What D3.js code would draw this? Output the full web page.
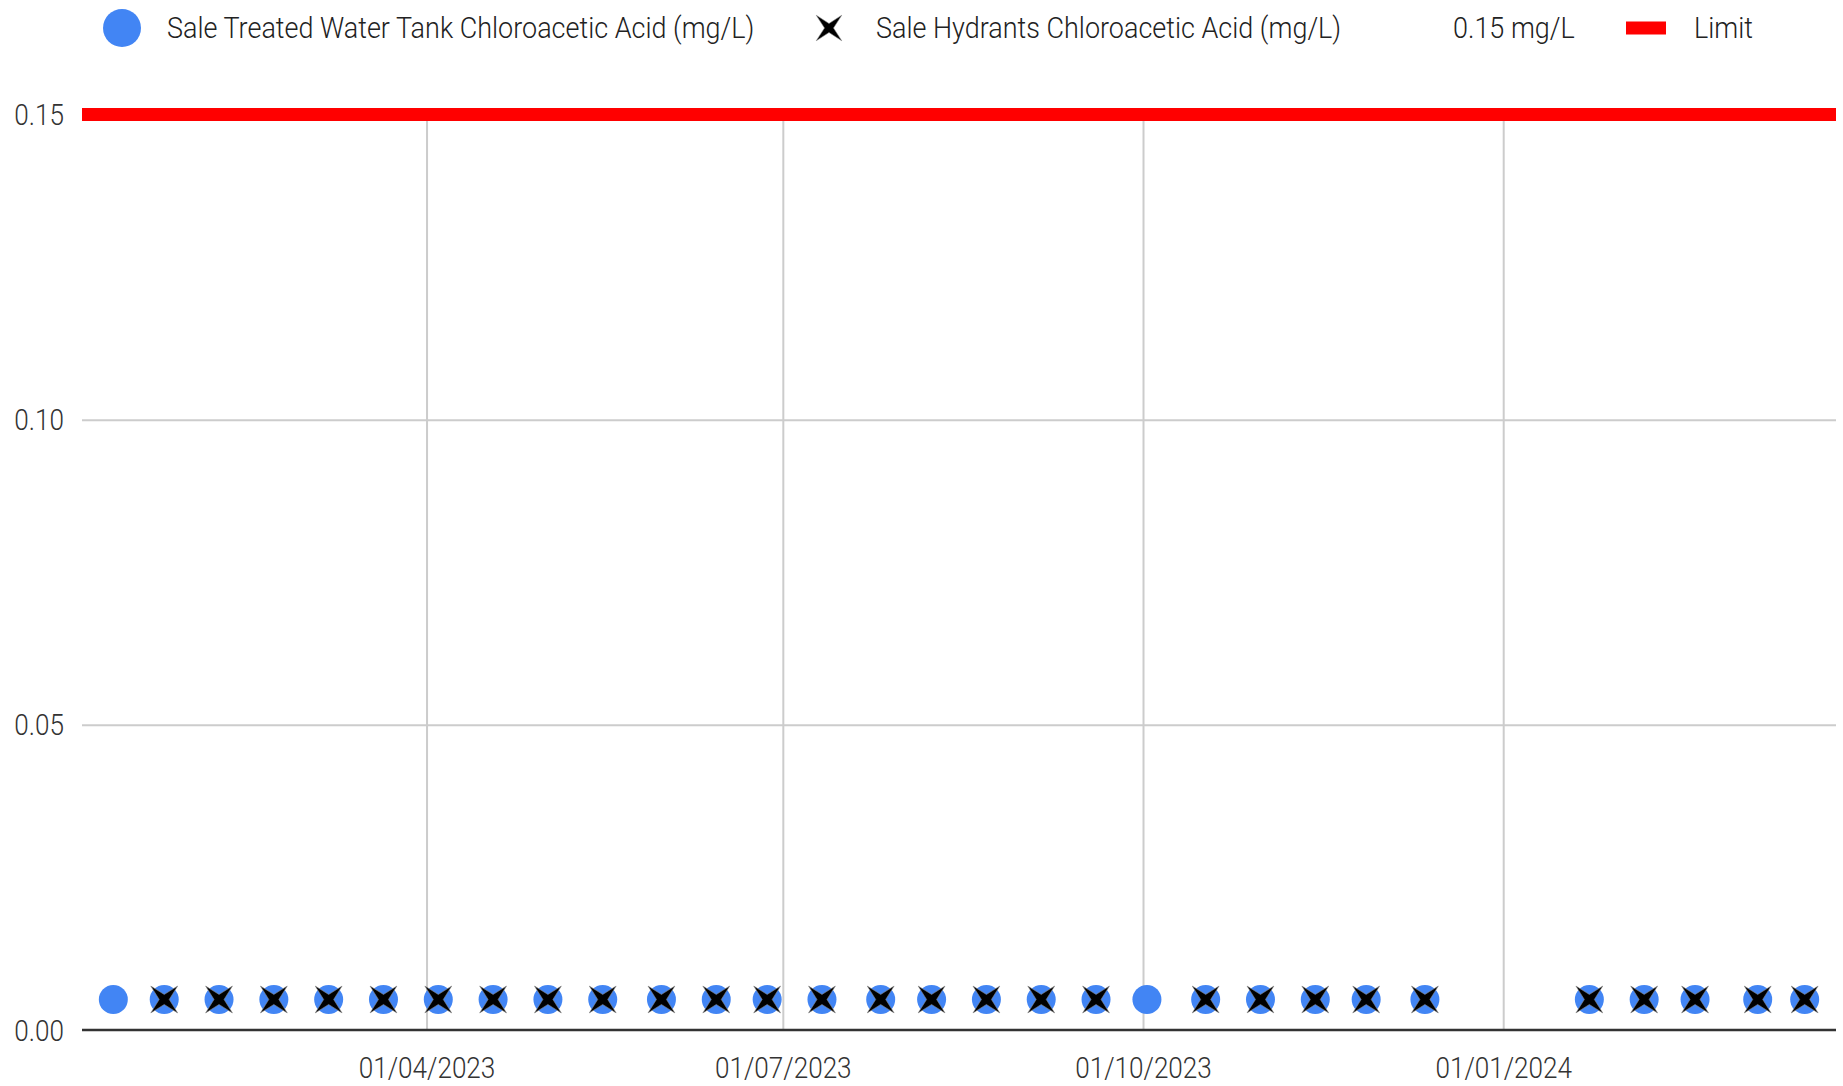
<!DOCTYPE html>
<html>
<head>
<meta charset="utf-8">
<script src="https://cdn.jsdelivr.net/npm/d3@7"></script>
<style>
  html, body { margin: 0; padding: 0; background: #fff; }
  svg { display: block; }
  text { font-family: Roboto, "Liberation Sans", Arial, sans-serif; font-weight: 300; }
</style>
</head>
<body>
<svg id="chart" width="1843" height="1086"></svg>
<script>
// ---------------- data ----------------
const seriesNames = [
  "Sale Treated Water Tank Chloroacetic Acid (mg/L)",
  "Sale Hydrants Chloroacetic Acid (mg/L)",
  "0.15 mg/L",
  "Limit"
];
const xDomain = ["2023-01-03", "2024-03-26"];
const yDomain = [0, 0.15];
const xTicks = ["2023-04-01", "2023-07-01", "2023-10-01", "2024-01-01"];
const yTicks = [0.00, 0.05, 0.10, 0.15];

const tankDates = [
  "2023-01-11", "2023-01-24", "2023-02-07", "2023-02-21", "2023-03-07", "2023-03-21",
  "2023-04-04", "2023-04-18", "2023-05-02", "2023-05-16", "2023-05-31", "2023-06-14",
  "2023-06-27", "2023-07-11", "2023-07-26", "2023-08-08", "2023-08-22", "2023-09-05",
  "2023-09-19", "2023-10-02", "2023-10-17", "2023-10-31", "2023-11-14", "2023-11-27",
  "2023-12-12", "2024-01-23", "2024-02-06", "2024-02-19", "2024-03-06", "2024-03-18"
];
const tankValues = [
  0.005, 0.005, 0.005, 0.005, 0.005, 0.005,
  0.005, 0.005, 0.005, 0.005, 0.005, 0.005,
  0.005, 0.005, 0.005, 0.005, 0.005, 0.005,
  0.005, 0.005, 0.005, 0.005, 0.005, 0.005,
  0.005, 0.005, 0.005, 0.005, 0.005, 0.005
];

const hydrantDates = [
  "2023-01-24", "2023-02-07", "2023-02-21", "2023-03-07", "2023-03-21",
  "2023-04-04", "2023-04-18", "2023-05-02", "2023-05-16", "2023-05-31", "2023-06-14",
  "2023-06-27", "2023-07-11", "2023-07-26", "2023-08-08", "2023-08-22", "2023-09-05",
  "2023-09-19", "2023-10-17", "2023-10-31", "2023-11-14", "2023-11-27",
  "2023-12-12", "2024-01-23", "2024-02-06", "2024-02-19", "2024-03-06", "2024-03-18"
];
const hydrantValues = [
  0.005, 0.005, 0.005, 0.005, 0.005,
  0.005, 0.005, 0.005, 0.005, 0.005, 0.005,
  0.005, 0.005, 0.005, 0.005, 0.005, 0.005,
  0.005, 0.005, 0.005, 0.005, 0.005,
  0.005, 0.005, 0.005, 0.005, 0.005, 0.005
];

const limitValue = 0.15;

// ---------------- styles / layout ----------------
const BLUE = "#4285f4";
const RED = "#ff0000";
const GRID = "#cccccc";
const FONT = 29;
const TICK_SQUEEZE = 0.9;
const LEGEND_SQUEEZE = 0.93;
const plot = { left: 82, right: 1836, top: 114.5, bottom: 1030 };

const parse = d3.timeParse("%Y-%m-%d");
const fmt = d3.timeFormat("%d/%m/%Y");

const svg = d3.select("#chart");

const x = d3.scaleTime()
  .domain(xDomain.map(parse))
  .range([plot.left, plot.right]);
const y = d3.scaleLinear()
  .domain(yDomain)
  .range([plot.bottom, plot.top]);

function squeeze(sel, k) {
  sel.each(function () {
    const w = this.getComputedTextLength();
    d3.select(this)
      .attr("textLength", w * k)
      .attr("lengthAdjust", "spacingAndGlyphs");
  });
}

// grid: horizontal
const yGrid = svg.append("g")
  .attr("transform", `translate(${plot.left},0)`)
  .call(d3.axisLeft(y).tickValues(yTicks.filter(v => v > 0))
    .tickSize(-(plot.right - plot.left)).tickFormat(""));
yGrid.select(".domain").remove();
yGrid.selectAll("line").attr("stroke", GRID).attr("stroke-width", 2);

// grid: vertical
const xGrid = svg.append("g")
  .attr("transform", `translate(0,${plot.bottom})`)
  .call(d3.axisBottom(x).tickValues(xTicks.map(parse))
    .tickSize(-(plot.bottom - plot.top)).tickFormat(""));
xGrid.select(".domain").remove();
xGrid.selectAll("line").attr("stroke", GRID).attr("stroke-width", 2);

// y tick labels
const yAxis = svg.append("g")
  .attr("transform", `translate(${plot.left},0)`)
  .call(d3.axisLeft(y).tickValues(yTicks).tickSize(0).tickPadding(18)
    .tickFormat(d3.format(".2f")));
yAxis.select(".domain").remove();
yAxis.selectAll("text")
  .attr("font-size", FONT)
  .attr("font-family", "Roboto, 'Liberation Sans', Arial, sans-serif")
  .attr("font-weight", 300)
  .attr("fill", "#333")
  .attr("dy", "0.35em")
  .call(squeeze, TICK_SQUEEZE);

// x tick labels
const xAxis = svg.append("g")
  .attr("transform", `translate(0,${plot.bottom})`)
  .call(d3.axisBottom(x).tickValues(xTicks.map(parse)).tickSize(0).tickPadding(0)
    .tickFormat(fmt));
xAxis.select(".domain").remove();
xAxis.selectAll("text")
  .attr("font-size", FONT)
  .attr("font-family", "Roboto, 'Liberation Sans', Arial, sans-serif")
  .attr("font-weight", 300)
  .attr("fill", "#333")
  .attr("dy", null)
  .attr("y", 48)
  .call(squeeze, TICK_SQUEEZE);

// limit line
svg.append("line")
  .attr("x1", x.range()[0]).attr("x2", x.range()[1])
  .attr("y1", y(limitValue)).attr("y2", y(limitValue))
  .attr("stroke", RED).attr("stroke-width", 13);

// baseline
svg.append("line")
  .attr("x1", plot.left).attr("x2", plot.right)
  .attr("y1", y(0)).attr("y2", y(0))
  .attr("stroke", "#333").attr("stroke-width", 2.5);

// star-X path generator
function xStar(R, r) {
  const pts = [];
  for (let i = 0; i < 8; i++) {
    const a = Math.PI / 4 + i * Math.PI / 4;
    const rad = i % 2 === 0 ? R : r;
    pts.push([rad * Math.cos(a), rad * Math.sin(a)]);
  }
  return "M" + pts.map(p => p.join(",")).join("L") + "Z";
}

// tank circles
const tank = tankDates.map((d, i) => ({ date: parse(d), value: tankValues[i] }));
svg.append("g").selectAll("circle").data(tank).join("circle")
  .attr("cx", d => x(d.date))
  .attr("cy", d => y(d.value))
  .attr("r", 14.5)
  .attr("fill", BLUE);

// hydrant X
const hyd = hydrantDates.map((d, i) => ({ date: parse(d), value: hydrantValues[i] }));
svg.append("g").selectAll("path").data(hyd).join("path")
  .attr("transform", d => `translate(${x(d.date)},${y(d.value)})`)
  .attr("d", xStar(19, 5))
  .attr("fill", "#000")
  .attr("stroke", "#888")
  .attr("stroke-width", 0.6);

// ---------------- legend ----------------
const leg = svg.append("g");
const legY = 28;
leg.append("circle").attr("cx", 122).attr("cy", legY).attr("r", 19).attr("fill", BLUE);
leg.append("text").attr("x", 167).attr("y", legY).attr("dy", "0.35em")
  .attr("font-size", FONT).attr("fill", "#222").text(seriesNames[0]).call(squeeze, LEGEND_SQUEEZE);

leg.append("path").attr("transform", `translate(829,${legY})`)
  .attr("d", xStar(18, 4.5)).attr("fill", "#000").attr("stroke", "#888").attr("stroke-width", 0.6);
leg.append("text").attr("x", 876).attr("y", legY).attr("dy", "0.35em")
  .attr("font-size", FONT).attr("fill", "#222").text(seriesNames[1]).call(squeeze, LEGEND_SQUEEZE);

leg.append("text").attr("x", 1453).attr("y", legY).attr("dy", "0.35em")
  .attr("font-size", FONT).attr("fill", "#222").text(seriesNames[2]).call(squeeze, LEGEND_SQUEEZE);

leg.append("rect").attr("x", 1626).attr("y", legY - 6.5).attr("width", 40).attr("height", 13)
  .attr("fill", RED);
leg.append("text").attr("x", 1694).attr("y", legY).attr("dy", "0.35em")
  .attr("font-size", FONT).attr("fill", "#222").text(seriesNames[3]).call(squeeze, LEGEND_SQUEEZE);
</script>
</body>
</html>
